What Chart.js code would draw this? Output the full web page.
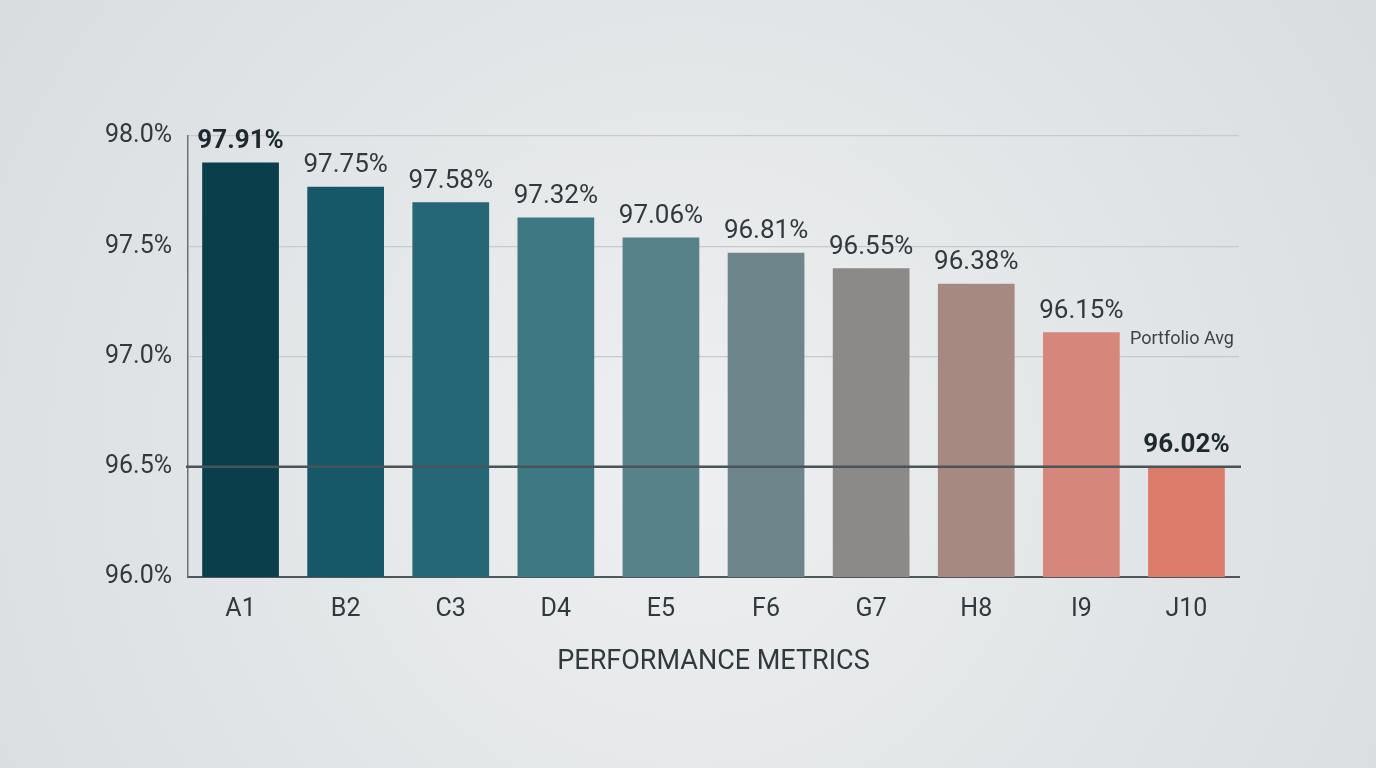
<!DOCTYPE html>
<html>
<head>
<meta charset="utf-8">
<script src="https://cdn.jsdelivr.net/npm/chart.js@4"></script>
<style>
  html, body { margin: 0; padding: 0; background: #dfe2e4; }
  #wrap { width: 1376px; height: 768px; position: relative; }
</style>
</head>
<body>
<div id="wrap"><canvas id="perfChart"></canvas></div>
<script>
// bar data
const metrics = ['A1', 'B2', 'C3', 'D4', 'E5', 'F6', 'G7', 'H8', 'I9', 'J10'];
const barValues = [97.88, 97.77, 97.70, 97.63, 97.54, 97.47, 97.40, 97.33, 97.11, 96.50];
const valueLabels = ['97.91%', '97.75%', '97.58%', '97.32%', '97.06%', '96.81%', '96.55%', '96.38%', '96.15%', '96.02%'];
const portfolioAvg = 96.5;
const yTicks = [96.0, 96.5, 97.0, 97.5, 98.0];

const barColors = ['#0b3e4b', '#175868', '#256776', '#3e7882', '#57828a', '#6e858b', '#8b8a88', '#a68a82', '#d4877a', '#db7b6a'];
const FONT = "'Liberation Sans Narrow', 'Roboto', sans-serif";

const bgPlugin = {
    id: 'bg',
    beforeDraw(chart) {
        const ctx = chart.ctx;
        const w = chart.width, h = chart.height;
        const g = ctx.createRadialGradient(w * 0.5, h * 0.6, 60, w * 0.5, h * 0.6, w * 0.7);
        g.addColorStop(0, '#eceeef');
        g.addColorStop(1, '#d6dadd');
        ctx.save();
        ctx.fillStyle = g;
        ctx.fillRect(0, 0, w, h);
        ctx.restore();
    }
};

const labelPlugin = {
    id: 'labels',
    afterDatasetsDraw(chart) {
        const ctx = chart.ctx;
        const y = chart.scales.y;
        const area = chart.chartArea;
        ctx.save();

        // portfolio average line
        const ya = y.getPixelForValue(portfolioAvg);
        ctx.strokeStyle = '#4a5357';
        ctx.lineWidth = 2.5;
        ctx.beginPath();
        ctx.moveTo(area.left - 2, ya);
        ctx.lineTo(area.right + 2, ya);
        ctx.stroke();

        ctx.font = '18px ' + FONT;
        ctx.fillStyle = '#3a4348';
        ctx.textAlign = 'left';
        ctx.textBaseline = 'middle';
        ctx.fillText('Portfolio Avg', 1130, 339);

        // value labels
        const meta = chart.getDatasetMeta(0);
        ctx.textAlign = 'center';
        ctx.textBaseline = 'bottom';
        meta.data.forEach((bar, i) => {
            const bold = (i === 0 || i === metrics.length - 1);
            ctx.font = (bold ? 'bold ' : '') + '26px ' + FONT;
            ctx.fillStyle = bold ? '#1e292f' : '#2f393e';
            ctx.fillText(valueLabels[i], bar.x, bar.y - 8);
        });
        ctx.restore();
    }
};

new Chart(document.getElementById('perfChart'), {
    type: 'bar',
    data: {
        labels: metrics,
        datasets: [{
            data: barValues,
            backgroundColor: barColors,
            borderWidth: 0,
            barPercentage: 0.73,
            categoryPercentage: 1.0
        }]
    },
    options: {
        responsive: true,
        maintainAspectRatio: false,
        animation: false,
        layout: { padding: { top: 136, right: 137, bottom: 90, left: 0 } },
        plugins: { legend: { display: false }, tooltip: { enabled: false } },
        scales: {
            x: {
                grid: { display: false },
                border: { color: '#4e575b', width: 2 },
                ticks: { color: '#2f393e', font: { family: FONT, size: 25 }, padding: 10 },
                title: { display: true, text: 'PERFORMANCE METRICS', color: '#2f393e', font: { family: FONT, size: 27 }, padding: { top: 0, bottom: 0 } },
                afterFit(scale) { scale.height = 101; }
            },
            y: {
                min: 96, max: 98,
                afterBuildTicks(scale) { scale.ticks = yTicks.map(v => ({ value: v })); },
                grid: { color: '#c5cacd', lineWidth: 1.2, drawTicks: false },
                border: { color: '#6a7276', width: 1.5 },
                ticks: {
                    color: '#2f393e',
                    font: { family: FONT, size: 25 },
                    padding: 16,
                    callback: v => v.toFixed(1) + '%'
                },
                afterFit(scale) { scale.width = 188; }
            }
        }
    },
    plugins: [bgPlugin, labelPlugin]
});
</script>
</body>
</html>
